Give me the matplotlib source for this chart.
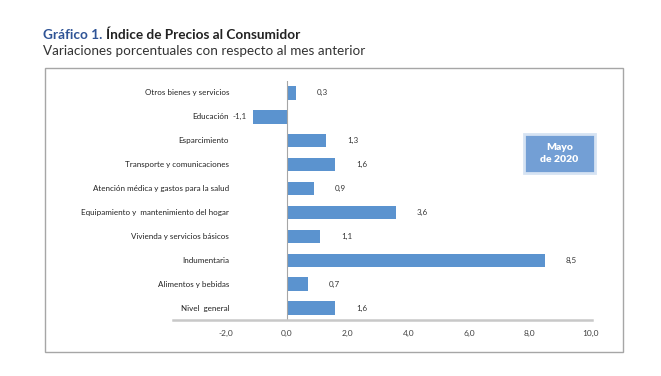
import matplotlib.pyplot as plt
from matplotlib.patches import Rectangle

plt.rcParams['font.family'] = ['Lato', 'DejaVu Sans']

categorias = ["Nivel  general", "Alimentos y bebidas", "Indumentaria",
              "Vivienda y servicios básicos",
              "Equipamiento y  mantenimiento del hogar",
              "Atención médica y gastos para la salud",
              "Transporte y comunicaciones", "Esparcimiento", "Educación",
              "Otros bienes y servicios"]
variacion = [1.6, 0.7, 8.5, 1.1, 3.6, 0.9, 1.6, 1.3, -1.1, 0.3]
xticks = [-2, 0, 2, 4, 6, 8, 10]

W, H = 661, 376
fig = plt.figure(figsize=(W / 100, H / 100), dpi=100)

# marco exterior
fig.add_artist(Rectangle((45 / W, 1 - 352 / H), (623 - 45) / W, (352 - 68) / H,
                         transform=fig.transFigure, fill=False,
                         edgecolor="#a6a6a6", linewidth=1.0))

# titulos
t1 = fig.text(43 / W, 1 - 35 / H, "Gráfico 1.", color="#2f5496", fontsize=9.8,
              fontweight="bold", va="center")
r = fig.canvas.get_renderer()
x_fin = t1.get_window_extent(r).x1
fig.text((x_fin + 3.5) / W, 1 - 35 / H, "Índice de Precios al Consumidor",
         color="#222222", fontsize=9.8, fontweight="bold", va="center")
fig.text(43 / W, 1 - 51 / H, "Variaciones porcentuales con respecto al mes anterior",
         color="#333333", fontsize=9.7, va="center")

ax = fig.add_axes([173 / W, 1 - 320 / H, (592 - 173) / W, (320 - 81) / H])
y = range(len(categorias))
ax.barh(y, variacion, height=0.56, color="#5b93cf")
ax.axvline(0, color="#a6a6a6", linewidth=0.8, ymin=0, ymax=1)

ax.set_xlim(-3.75, 10.05)
ax.set_ylim(-0.5, len(categorias) - 0.5)
ax.set_xticks(xticks)
ax.set_xticklabels([f"{t:.1f}".replace(".", ",") for t in xticks],
                   fontsize=6, color="#404040")
ax.tick_params(axis="x", length=0, pad=7)
ax.set_yticks([])
for s in ["top", "right", "left"]:
    ax.spines[s].set_visible(False)
ax.spines["bottom"].set_color("#c8c8c8")
ax.spines["bottom"].set_linewidth(1.8)

for i, (cat, v) in enumerate(zip(categorias, variacion)):
    ax.text(-1.9, i, cat, ha="right", va="center", fontsize=5.8, color="#222222")
    lbl = f"{v:.1f}".replace(".", ",")
    if v >= 0:
        ax.text(v + 0.68, i, lbl, ha="left", va="center", fontsize=5.8, color="#333333")
    else:
        ax.text(v - 0.22, i, lbl, ha="right", va="center", fontsize=5.8, color="#333333")

# recuadro Mayo de 2020
fig.add_artist(Rectangle((524 / W, 1 - 173 / H), 71 / W, 39 / H,
                         transform=fig.transFigure, facecolor="#739fd5",
                         edgecolor="#d6e3f3", linewidth=2))
fig.text(559.5 / W, 1 - 153.5 / H, "Mayo\nde 2020", color="white", fontsize=7.5,
         fontweight="heavy", ha="center", va="center", linespacing=1.3)

fig.savefig("out.png", dpi=100)
